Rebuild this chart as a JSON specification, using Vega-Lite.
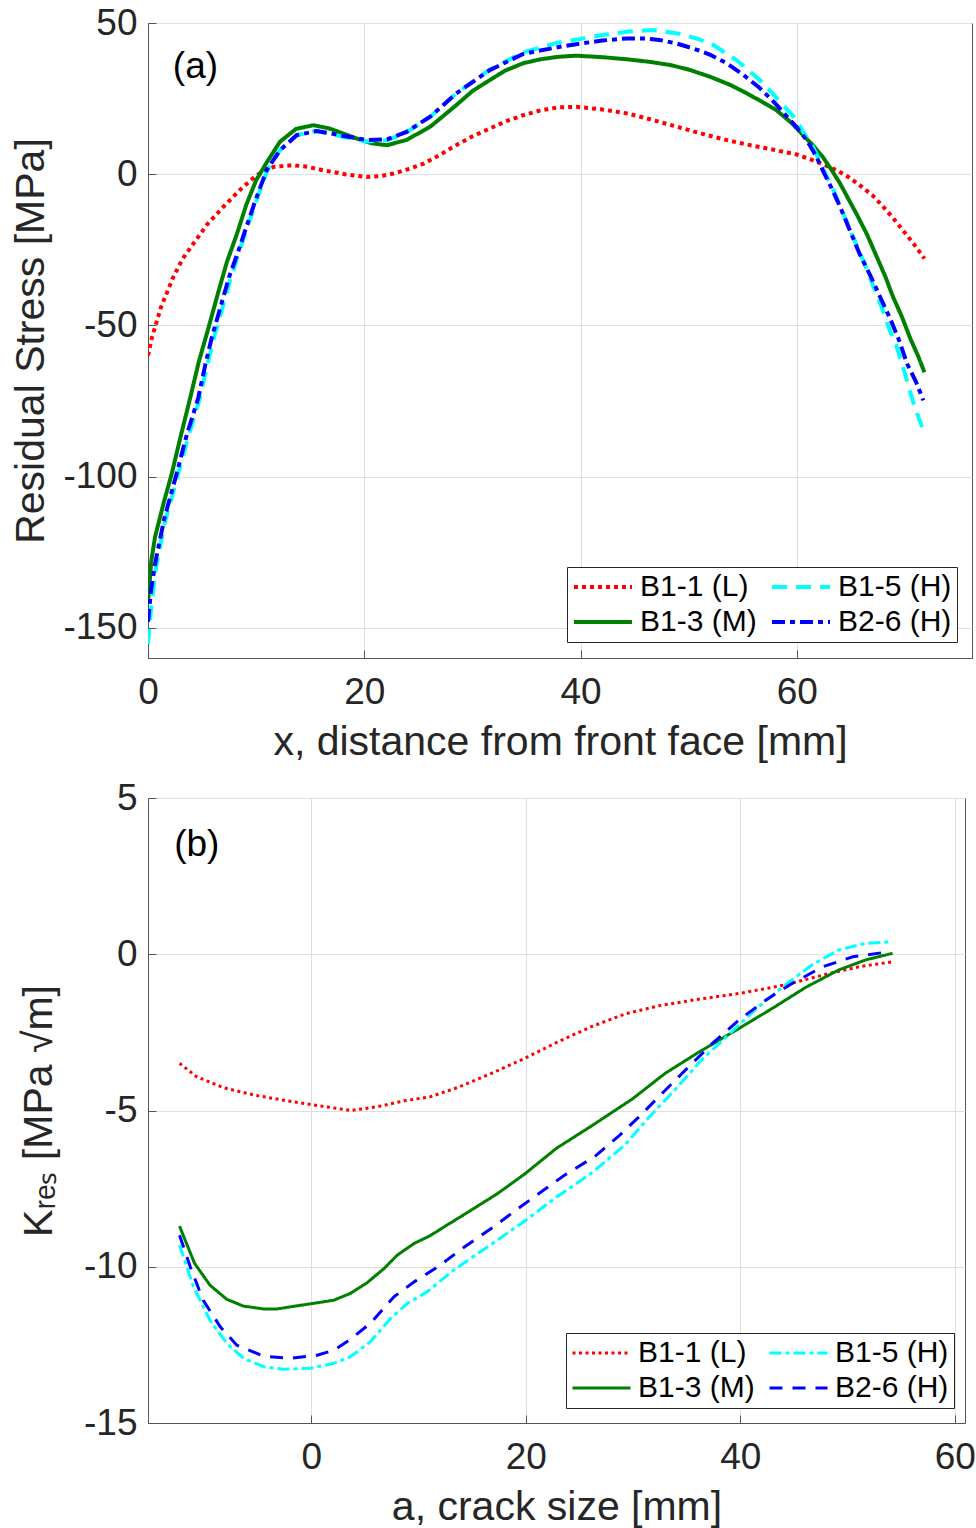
{
"$schema": "https://vega.github.io/schema/vega-lite/v6.json",
"padding": {"left": 10, "top": 3, "right": 0, "bottom": 2},
"spacing": 15,
"config": {
  "font": "Liberation Sans",
  "view": {"stroke": "#555555", "strokeWidth": 1},
  "axis": {"labelFont": "Liberation Sans", "titleFont": "Liberation Sans", "labelFontSize": 37, "titleFontSize": 41, "titleFontWeight": "normal", "labelColor": "#262626", "titleColor": "#262626", "gridColor": "#dfdfdf", "gridWidth": 1, "domainColor": "#555555", "tickColor": "#555555", "tickSize": -8, "labelPadding": 19, "titlePadding": 10, "labelExpr": "'' + datum.value", "labelFlush": false, "labelOverlap": false},
  "axisX": {"labelPadding": 24, "titlePadding": 12},
  "legend": {"orient": "none", "columns": 2, "symbolType": "stroke", "symbolSize": 3364, "clipHeight": 30, "labelFont": "Liberation Sans", "labelFontSize": 30, "labelColor": "#000000", "strokeColor": "#262626", "fillColor": "#ffffff", "padding": 5, "rowPadding": 5, "columnPadding": 13, "labelOffset": 6, "labelLimit": 0, "title": null}
},
"datasets": {
  "top": [
    {"s":"B1-1 (L)","x":0,"y":-60},{"s":"B1-1 (L)","x":0.34,"y":-54.3},{"s":"B1-1 (L)","x":1.2,"y":-44},{"s":"B1-1 (L)","x":2.34,"y":-34},{"s":"B1-1 (L)","x":3.2,"y":-28},{"s":"B1-1 (L)","x":4.19,"y":-23},{"s":"B1-1 (L)","x":5.5,"y":-16.5},{"s":"B1-1 (L)","x":6.97,"y":-10.8},{"s":"B1-1 (L)","x":8.5,"y":-5.2},{"s":"B1-1 (L)","x":10.05,"y":-0.3},{"s":"B1-1 (L)","x":11.6,"y":2.4},{"s":"B1-1 (L)","x":13.4,"y":3.0},{"s":"B1-1 (L)","x":14.8,"y":2.4},{"s":"B1-1 (L)","x":16.2,"y":1.3},{"s":"B1-1 (L)","x":18.2,"y":0},{"s":"B1-1 (L)","x":20.2,"y":-0.9},{"s":"B1-1 (L)","x":21.5,"y":-0.6},{"s":"B1-1 (L)","x":22.7,"y":0.2},{"s":"B1-1 (L)","x":24,"y":1.6},{"s":"B1-1 (L)","x":25.5,"y":3.5},{"s":"B1-1 (L)","x":27,"y":6.4},{"s":"B1-1 (L)","x":28.5,"y":9.6},{"s":"B1-1 (L)","x":30,"y":12.5},{"s":"B1-1 (L)","x":31.6,"y":15.1},{"s":"B1-1 (L)","x":33.1,"y":17.5},{"s":"B1-1 (L)","x":34.7,"y":19.5},{"s":"B1-1 (L)","x":36.3,"y":21.1},{"s":"B1-1 (L)","x":37.9,"y":22.1},{"s":"B1-1 (L)","x":39.6,"y":22.3},{"s":"B1-1 (L)","x":42,"y":21.4},{"s":"B1-1 (L)","x":44.3,"y":20.1},{"s":"B1-1 (L)","x":46.6,"y":18},{"s":"B1-1 (L)","x":48.9,"y":15.7},{"s":"B1-1 (L)","x":51.2,"y":13.4},{"s":"B1-1 (L)","x":53.5,"y":11.3},{"s":"B1-1 (L)","x":55.8,"y":9.5},{"s":"B1-1 (L)","x":58.1,"y":7.9},{"s":"B1-1 (L)","x":60,"y":6.5},{"s":"B1-1 (L)","x":61.5,"y":4.6},{"s":"B1-1 (L)","x":62.6,"y":3},{"s":"B1-1 (L)","x":63.7,"y":1.3},{"s":"B1-1 (L)","x":64.8,"y":-1},{"s":"B1-1 (L)","x":65.8,"y":-3.6},{"s":"B1-1 (L)","x":67,"y":-7},{"s":"B1-1 (L)","x":68,"y":-10.8},{"s":"B1-1 (L)","x":68.9,"y":-14.5},{"s":"B1-1 (L)","x":69.8,"y":-18.5},{"s":"B1-1 (L)","x":70.8,"y":-23},{"s":"B1-1 (L)","x":71.8,"y":-27.9},
    {"s":"B1-3 (M)","x":0,"y":-142},{"s":"B1-3 (M)","x":0.3,"y":-128},{"s":"B1-3 (M)","x":0.65,"y":-120},{"s":"B1-3 (M)","x":1.5,"y":-108},{"s":"B1-3 (M)","x":2.2,"y":-99},{"s":"B1-3 (M)","x":3,"y":-87},{"s":"B1-3 (M)","x":3.9,"y":-74},{"s":"B1-3 (M)","x":4.7,"y":-62},{"s":"B1-3 (M)","x":5.5,"y":-52},{"s":"B1-3 (M)","x":6.5,"y":-39},{"s":"B1-3 (M)","x":7.3,"y":-29},{"s":"B1-3 (M)","x":8.2,"y":-20},{"s":"B1-3 (M)","x":9.1,"y":-10},{"s":"B1-3 (M)","x":10,"y":-2},{"s":"B1-3 (M)","x":11,"y":4},{"s":"B1-3 (M)","x":12.2,"y":10.7},{"s":"B1-3 (M)","x":13.7,"y":15},{"s":"B1-3 (M)","x":15.3,"y":16.2},{"s":"B1-3 (M)","x":16.8,"y":15.1},{"s":"B1-3 (M)","x":18,"y":13.5},{"s":"B1-3 (M)","x":19.3,"y":11.8},{"s":"B1-3 (M)","x":20.7,"y":10.2},{"s":"B1-3 (M)","x":22.1,"y":9.6},{"s":"B1-3 (M)","x":23.9,"y":11.3},{"s":"B1-3 (M)","x":26.1,"y":15.7},{"s":"B1-3 (M)","x":28.5,"y":22.8},{"s":"B1-3 (M)","x":30,"y":27.5},{"s":"B1-3 (M)","x":31.6,"y":31.1},{"s":"B1-3 (M)","x":33,"y":34.2},{"s":"B1-3 (M)","x":34.7,"y":36.7},{"s":"B1-3 (M)","x":36.3,"y":38},{"s":"B1-3 (M)","x":37.9,"y":38.8},{"s":"B1-3 (M)","x":39.6,"y":39.2},{"s":"B1-3 (M)","x":42,"y":38.7},{"s":"B1-3 (M)","x":44.3,"y":38},{"s":"B1-3 (M)","x":46.5,"y":37.1},{"s":"B1-3 (M)","x":48.3,"y":36.1},{"s":"B1-3 (M)","x":50,"y":34.6},{"s":"B1-3 (M)","x":52,"y":32.2},{"s":"B1-3 (M)","x":53.8,"y":29.6},{"s":"B1-3 (M)","x":55.4,"y":26.7},{"s":"B1-3 (M)","x":57,"y":23.5},{"s":"B1-3 (M)","x":58.1,"y":21.2},{"s":"B1-3 (M)","x":59.5,"y":17},{"s":"B1-3 (M)","x":60.6,"y":12.9},{"s":"B1-3 (M)","x":61.5,"y":9.5},{"s":"B1-3 (M)","x":62.4,"y":5.7},{"s":"B1-3 (M)","x":63.2,"y":1.5},{"s":"B1-3 (M)","x":64,"y":-3.1},{"s":"B1-3 (M)","x":65.5,"y":-13},{"s":"B1-3 (M)","x":66.5,"y":-20},{"s":"B1-3 (M)","x":67.4,"y":-27.4},{"s":"B1-3 (M)","x":68.2,"y":-34},{"s":"B1-3 (M)","x":68.9,"y":-40.6},{"s":"B1-3 (M)","x":69.7,"y":-47},{"s":"B1-3 (M)","x":70.5,"y":-54.4},{"s":"B1-3 (M)","x":71.2,"y":-60},{"s":"B1-3 (M)","x":71.8,"y":-65.5},
    {"s":"B1-5 (H)","x":0,"y":-155.4},{"s":"B1-5 (H)","x":0.3,"y":-143},{"s":"B1-5 (H)","x":0.7,"y":-131},{"s":"B1-5 (H)","x":1.5,"y":-116},{"s":"B1-5 (H)","x":2.8,"y":-99},{"s":"B1-5 (H)","x":3.8,"y":-86},{"s":"B1-5 (H)","x":4.8,"y":-74},{"s":"B1-5 (H)","x":5.5,"y":-63},{"s":"B1-5 (H)","x":6.1,"y":-54},{"s":"B1-5 (H)","x":6.9,"y":-44},{"s":"B1-5 (H)","x":7.6,"y":-35},{"s":"B1-5 (H)","x":8.4,"y":-26},{"s":"B1-5 (H)","x":9.2,"y":-17.4},{"s":"B1-5 (H)","x":10.1,"y":-8},{"s":"B1-5 (H)","x":11,"y":1},{"s":"B1-5 (H)","x":12.2,"y":7.9},{"s":"B1-5 (H)","x":13.75,"y":12.9},{"s":"B1-5 (H)","x":15.6,"y":14.3},{"s":"B1-5 (H)","x":17.75,"y":12.6},{"s":"B1-5 (H)","x":20.2,"y":10.8},{"s":"B1-5 (H)","x":22.1,"y":11.2},{"s":"B1-5 (H)","x":23.9,"y":13.8},{"s":"B1-5 (H)","x":26.1,"y":19},{"s":"B1-5 (H)","x":28.5,"y":26.7},{"s":"B1-5 (H)","x":31.6,"y":34.6},{"s":"B1-5 (H)","x":34.7,"y":40.3},{"s":"B1-5 (H)","x":37.9,"y":43.5},{"s":"B1-5 (H)","x":39.6,"y":44.5},{"s":"B1-5 (H)","x":42,"y":46},{"s":"B1-5 (H)","x":44.3,"y":47.1},{"s":"B1-5 (H)","x":46.7,"y":47.7},{"s":"B1-5 (H)","x":49.2,"y":46.4},{"s":"B1-5 (H)","x":50.8,"y":44.8},{"s":"B1-5 (H)","x":52.3,"y":42.7},{"s":"B1-5 (H)","x":54.5,"y":37.5},{"s":"B1-5 (H)","x":56.6,"y":31.1},{"s":"B1-5 (H)","x":58.2,"y":25},{"s":"B1-5 (H)","x":59.7,"y":19},{"s":"B1-5 (H)","x":60.6,"y":14},{"s":"B1-5 (H)","x":61.5,"y":9},{"s":"B1-5 (H)","x":62.4,"y":2},{"s":"B1-5 (H)","x":63.4,"y":-5.3},{"s":"B1-5 (H)","x":64.3,"y":-13},{"s":"B1-5 (H)","x":65.2,"y":-20.8},{"s":"B1-5 (H)","x":66.2,"y":-29},{"s":"B1-5 (H)","x":67.1,"y":-37.3},{"s":"B1-5 (H)","x":67.9,"y":-44.5},{"s":"B1-5 (H)","x":68.6,"y":-51.7},{"s":"B1-5 (H)","x":69.2,"y":-56.6},{"s":"B1-5 (H)","x":70,"y":-66},{"s":"B1-5 (H)","x":70.8,"y":-75.9},{"s":"B1-5 (H)","x":71.7,"y":-84.8},
    {"s":"B2-6 (H)","x":0,"y":-148},{"s":"B2-6 (H)","x":0.3,"y":-137},{"s":"B2-6 (H)","x":0.7,"y":-128},{"s":"B2-6 (H)","x":1.5,"y":-114},{"s":"B2-6 (H)","x":2.65,"y":-99},{"s":"B2-6 (H)","x":3.6,"y":-86},{"s":"B2-6 (H)","x":4.65,"y":-74},{"s":"B2-6 (H)","x":5.3,"y":-63},{"s":"B2-6 (H)","x":5.9,"y":-54},{"s":"B2-6 (H)","x":6.7,"y":-44},{"s":"B2-6 (H)","x":7.5,"y":-34},{"s":"B2-6 (H)","x":8.3,"y":-26},{"s":"B2-6 (H)","x":9.1,"y":-17.4},{"s":"B2-6 (H)","x":10,"y":-8},{"s":"B2-6 (H)","x":10.97,"y":1.3},{"s":"B2-6 (H)","x":12.2,"y":7.9},{"s":"B2-6 (H)","x":13.75,"y":12.9},{"s":"B2-6 (H)","x":15.6,"y":14.3},{"s":"B2-6 (H)","x":17.75,"y":12.9},{"s":"B2-6 (H)","x":20.2,"y":11.3},{"s":"B2-6 (H)","x":22.1,"y":11.5},{"s":"B2-6 (H)","x":23.9,"y":14},{"s":"B2-6 (H)","x":26.1,"y":19},{"s":"B2-6 (H)","x":28.5,"y":26.7},{"s":"B2-6 (H)","x":31.6,"y":34.4},{"s":"B2-6 (H)","x":34.7,"y":39.8},{"s":"B2-6 (H)","x":37.9,"y":42},{"s":"B2-6 (H)","x":39.6,"y":43},{"s":"B2-6 (H)","x":42,"y":44.2},{"s":"B2-6 (H)","x":44.3,"y":44.9},{"s":"B2-6 (H)","x":46,"y":44.9},{"s":"B2-6 (H)","x":47.3,"y":44.4},{"s":"B2-6 (H)","x":48.8,"y":43.3},{"s":"B2-6 (H)","x":50.4,"y":41.6},{"s":"B2-6 (H)","x":52,"y":39.5},{"s":"B2-6 (H)","x":53.5,"y":36.7},{"s":"B2-6 (H)","x":55,"y":33},{"s":"B2-6 (H)","x":56.6,"y":28.4},{"s":"B2-6 (H)","x":57.9,"y":23.8},{"s":"B2-6 (H)","x":59.1,"y":19},{"s":"B2-6 (H)","x":60,"y":15.5},{"s":"B2-6 (H)","x":60.9,"y":11.3},{"s":"B2-6 (H)","x":61.7,"y":6.5},{"s":"B2-6 (H)","x":62.4,"y":1.3},{"s":"B2-6 (H)","x":63.2,"y":-4.5},{"s":"B2-6 (H)","x":64,"y":-10.8},{"s":"B2-6 (H)","x":64.9,"y":-18.5},{"s":"B2-6 (H)","x":65.8,"y":-26.3},{"s":"B2-6 (H)","x":66.8,"y":-33.5},{"s":"B2-6 (H)","x":67.7,"y":-40.6},{"s":"B2-6 (H)","x":68.6,"y":-47.5},{"s":"B2-6 (H)","x":69.4,"y":-54.4},{"s":"B2-6 (H)","x":70.2,"y":-62.7},{"s":"B2-6 (H)","x":71,"y":-68.5},{"s":"B2-6 (H)","x":71.7,"y":-74.8}
  ],
  "bottom": [
    {"s":"B1-1 (L)","a":-12.3,"k":-3.49},{"s":"B1-1 (L)","a":-10.7,"k":-3.92},{"s":"B1-1 (L)","a":-8.2,"k":-4.27},{"s":"B1-1 (L)","a":-5.4,"k":-4.5},{"s":"B1-1 (L)","a":-2.3,"k":-4.69},{"s":"B1-1 (L)","a":0.2,"k":-4.82},{"s":"B1-1 (L)","a":3.65,"k":-5.0},{"s":"B1-1 (L)","a":6.15,"k":-4.88},{"s":"B1-1 (L)","a":8.65,"k":-4.69},{"s":"B1-1 (L)","a":11.1,"k":-4.56},{"s":"B1-1 (L)","a":13.6,"k":-4.27},{"s":"B1-1 (L)","a":16.8,"k":-3.81},{"s":"B1-1 (L)","a":19.9,"k":-3.33},{"s":"B1-1 (L)","a":23,"k":-2.8},{"s":"B1-1 (L)","a":26.1,"k":-2.32},{"s":"B1-1 (L)","a":29.25,"k":-1.91},{"s":"B1-1 (L)","a":32.4,"k":-1.65},{"s":"B1-1 (L)","a":36.1,"k":-1.44},{"s":"B1-1 (L)","a":40,"k":-1.25},{"s":"B1-1 (L)","a":44.2,"k":-0.98},{"s":"B1-1 (L)","a":48,"k":-0.64},{"s":"B1-1 (L)","a":51.1,"k":-0.4},{"s":"B1-1 (L)","a":54.2,"k":-0.24},
    {"s":"B1-3 (M)","a":-12.3,"k":-8.7},{"s":"B1-3 (M)","a":-10.9,"k":-9.89},{"s":"B1-3 (M)","a":-9.46,"k":-10.59},{"s":"B1-3 (M)","a":-7.9,"k":-11.04},{"s":"B1-3 (M)","a":-6.33,"k":-11.26},{"s":"B1-3 (M)","a":-4.46,"k":-11.35},{"s":"B1-3 (M)","a":-3.2,"k":-11.35},{"s":"B1-3 (M)","a":-1.34,"k":-11.25},{"s":"B1-3 (M)","a":0.22,"k":-11.17},{"s":"B1-3 (M)","a":2.1,"k":-11.07},{"s":"B1-3 (M)","a":3.65,"k":-10.85},{"s":"B1-3 (M)","a":5.2,"k":-10.51},{"s":"B1-3 (M)","a":6.8,"k":-10.05},{"s":"B1-3 (M)","a":8,"k":-9.63},{"s":"B1-3 (M)","a":9.6,"k":-9.25},{"s":"B1-3 (M)","a":11,"k":-9.02},{"s":"B1-3 (M)","a":12.4,"k":-8.72},{"s":"B1-3 (M)","a":14.9,"k":-8.19},{"s":"B1-3 (M)","a":17.4,"k":-7.65},{"s":"B1-3 (M)","a":19.9,"k":-7.03},{"s":"B1-3 (M)","a":22.85,"k":-6.21},{"s":"B1-3 (M)","a":26.1,"k":-5.5},{"s":"B1-3 (M)","a":29.9,"k":-4.64},{"s":"B1-3 (M)","a":33,"k":-3.81},{"s":"B1-3 (M)","a":36.1,"k":-3.14},{"s":"B1-3 (M)","a":39.9,"k":-2.37},{"s":"B1-3 (M)","a":43,"k":-1.73},{"s":"B1-3 (M)","a":46.1,"k":-1.06},{"s":"B1-3 (M)","a":49.2,"k":-0.5},{"s":"B1-3 (M)","a":51.7,"k":-0.18},{"s":"B1-3 (M)","a":54.2,"k":0.03},
    {"s":"B1-5 (H)","a":-12.3,"k":-9.31},{"s":"B1-5 (H)","a":-11,"k":-10.64},{"s":"B1-5 (H)","a":-9.46,"k":-11.71},{"s":"B1-5 (H)","a":-7.9,"k":-12.45},{"s":"B1-5 (H)","a":-6.33,"k":-12.93},{"s":"B1-5 (H)","a":-4.46,"k":-13.2},{"s":"B1-5 (H)","a":-2.6,"k":-13.28},{"s":"B1-5 (H)","a":-0.1,"k":-13.25},{"s":"B1-5 (H)","a":2.1,"k":-13.09},{"s":"B1-5 (H)","a":3.65,"k":-12.88},{"s":"B1-5 (H)","a":5.5,"k":-12.4},{"s":"B1-5 (H)","a":7.4,"k":-11.65},{"s":"B1-5 (H)","a":8.96,"k":-11.17},{"s":"B1-5 (H)","a":10.8,"k":-10.8},{"s":"B1-5 (H)","a":13.3,"k":-10.1},{"s":"B1-5 (H)","a":16.45,"k":-9.36},{"s":"B1-5 (H)","a":19.6,"k":-8.61},{"s":"B1-5 (H)","a":22.9,"k":-7.76},{"s":"B1-5 (H)","a":26.1,"k":-7.01},{"s":"B1-5 (H)","a":29.25,"k":-6.1},{"s":"B1-5 (H)","a":31.4,"k":-5.25},{"s":"B1-5 (H)","a":33.9,"k":-4.34},{"s":"B1-5 (H)","a":36.4,"k":-3.38},{"s":"B1-5 (H)","a":39.2,"k":-2.48},{"s":"B1-5 (H)","a":41.7,"k":-1.68},{"s":"B1-5 (H)","a":44.2,"k":-0.98},{"s":"B1-5 (H)","a":46.7,"k":-0.34},{"s":"B1-5 (H)","a":49.2,"k":0.14},{"s":"B1-5 (H)","a":51.7,"k":0.35},{"s":"B1-5 (H)","a":54.2,"k":0.4},
    {"s":"B2-6 (H)","a":-12.3,"k":-8.99},{"s":"B2-6 (H)","a":-11.3,"k":-10.0},{"s":"B2-6 (H)","a":-10.1,"k":-11.07},{"s":"B2-6 (H)","a":-8.5,"k":-11.92},{"s":"B2-6 (H)","a":-6.96,"k":-12.51},{"s":"B2-6 (H)","a":-4.46,"k":-12.86},{"s":"B2-6 (H)","a":-1.97,"k":-12.93},{"s":"B2-6 (H)","a":0.53,"k":-12.83},{"s":"B2-6 (H)","a":2.1,"k":-12.67},{"s":"B2-6 (H)","a":3.65,"k":-12.32},{"s":"B2-6 (H)","a":5.5,"k":-11.81},{"s":"B2-6 (H)","a":7.7,"k":-10.96},{"s":"B2-6 (H)","a":9.6,"k":-10.48},{"s":"B2-6 (H)","a":11.8,"k":-10.0},{"s":"B2-6 (H)","a":14.3,"k":-9.36},{"s":"B2-6 (H)","a":16.8,"k":-8.77},{"s":"B2-6 (H)","a":19.3,"k":-8.13},{"s":"B2-6 (H)","a":21.9,"k":-7.49},{"s":"B2-6 (H)","a":23.6,"k":-7.07},{"s":"B2-6 (H)","a":26.4,"k":-6.48},{"s":"B2-6 (H)","a":28.6,"k":-5.84},{"s":"B2-6 (H)","a":30.5,"k":-5.22},{"s":"B2-6 (H)","a":32.4,"k":-4.56},{"s":"B2-6 (H)","a":34.9,"k":-3.7},{"s":"B2-6 (H)","a":37.4,"k":-2.85},{"s":"B2-6 (H)","a":39.9,"k":-2.1},{"s":"B2-6 (H)","a":42.4,"k":-1.46},{"s":"B2-6 (H)","a":44.85,"k":-0.93},{"s":"B2-6 (H)","a":47.7,"k":-0.4},{"s":"B2-6 (H)","a":50.5,"k":-0.08},{"s":"B2-6 (H)","a":53.9,"k":0.08}
  ],
  "labA": [{"x": 2.3, "y": 35.5, "t": "(a)"}],
  "labB": [{"a": -12.8, "k": 3.5, "t": "(b)"}]
},
"resolve": {"scale": {"color": "independent", "strokeDash": "independent"}, "legend": {"color": "independent", "strokeDash": "independent"}},
"vconcat": [
  {
    "width": 824, "height": 635,
    "layer": [
      {
        "data": {"name": "top"},
        "mark": {"type": "line", "strokeWidth": 4, "clip": true},
        "encoding": {
          "x": {"field": "x", "type": "quantitative", "scale": {"domain": [0, 76.2], "nice": false, "zero": false}, "axis": {"values": [0, 20, 40, 60], "title": "x, distance from front face [mm]"}},
          "y": {"field": "y", "type": "quantitative", "scale": {"domain": [-160, 50], "nice": false, "zero": false}, "axis": {"values": [-150, -100, -50, 0, 50], "title": "Residual Stress [MPa]"}},
          "color": {"field": "s", "type": "nominal", "scale": {"domain": ["B1-1 (L)", "B1-3 (M)", "B1-5 (H)", "B2-6 (H)"], "range": ["#ff0000", "#008000", "#00ffff", "#0000ff"]}, "legend": {"symbolStrokeWidth": 4, "legendX": 419, "legendY": 544}},
          "strokeDash": {"field": "s", "type": "nominal", "scale": {"domain": ["B1-1 (L)", "B1-3 (M)", "B1-5 (H)", "B2-6 (H)"], "range": [[4, 4], [1, 0], [15, 9], [13, 5, 5, 5]]}},
          "order": {"field": "x", "type": "quantitative"}
        }
      },
      {
        "data": {"name": "labA"},
        "mark": {"type": "text", "align": "left", "baseline": "middle", "fontSize": 37, "font": "Liberation Sans", "color": "#000000"},
        "encoding": {"x": {"field": "x", "type": "quantitative"}, "y": {"field": "y", "type": "quantitative"}, "text": {"field": "t"}}
      }
    ]
  },
  {
    "width": 817, "height": 625,
    "layer": [
      {
        "data": {"name": "bottom"},
        "mark": {"type": "line", "strokeWidth": 3, "clip": true},
        "encoding": {
          "x": {"field": "a", "type": "quantitative", "scale": {"domain": [-15.24, 60.96], "nice": false, "zero": false}, "axis": {"values": [0, 20, 40, 60], "title": "a, crack size [mm]"}},
          "y": {"field": "k", "type": "quantitative", "scale": {"domain": [-15, 5], "nice": false, "zero": false}, "axis": {"values": [-15, -10, -5, 0, 5], "title": "Kᵣₑₛ [MPa √m]", "titlePadding": 23}},
          "color": {"field": "s", "type": "nominal", "scale": {"domain": ["B1-1 (L)", "B1-3 (M)", "B1-5 (H)", "B2-6 (H)"], "range": ["#ff0000", "#008000", "#00ffff", "#0000ff"]}, "legend": {"symbolStrokeWidth": 3, "legendX": 418, "legendY": 535}},
          "strokeDash": {"field": "s", "type": "nominal", "scale": {"domain": ["B1-1 (L)", "B1-3 (M)", "B1-5 (H)", "B2-6 (H)"], "range": [[3, 3.5], [1, 0], [12, 4, 4, 4], [13, 10]]}},
          "order": {"field": "a", "type": "quantitative"}
        }
      },
      {
        "data": {"name": "labB"},
        "mark": {"type": "text", "align": "left", "baseline": "middle", "fontSize": 37, "font": "Liberation Sans", "color": "#000000"},
        "encoding": {"x": {"field": "a", "type": "quantitative"}, "y": {"field": "k", "type": "quantitative"}, "text": {"field": "t"}}
      }
    ]
  }
]
}
